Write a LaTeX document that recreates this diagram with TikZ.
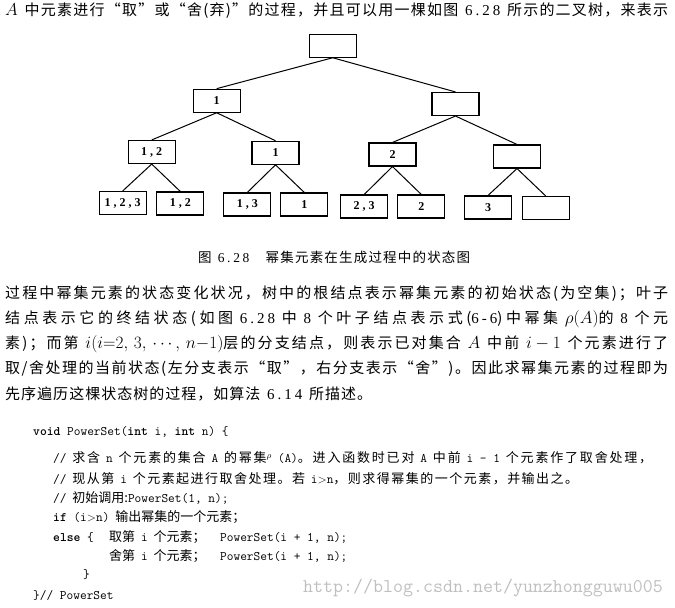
\documentclass[tikz,border=0pt]{standalone}
\usepackage[no-math]{fontspec}
\setmainfont{Noto Sans CJK SC}
\newfontfamily\lat{Liberation Serif}
\newfontfamily\num[LetterSpace=20]{Liberation Serif}
% glue between CJK characters, so that a line can be justified
\newXeTeXintercharclass\cjkcls
\newcount\cc
\cc="4E00 \loop \XeTeXcharclass\cc=\cjkcls \advance\cc by 1 \ifnum\cc<"A000 \repeat
\cc="3000 \loop \XeTeXcharclass\cc=\cjkcls \advance\cc by 1 \ifnum\cc<"3040 \repeat
\cc="FF00 \loop \XeTeXcharclass\cc=\cjkcls \advance\cc by 1 \ifnum\cc<"FF60 \repeat
\XeTeXcharclass"201C=\cjkcls
\XeTeXcharclass"201D=\cjkcls
\XeTeXinterchartoks\cjkcls\cjkcls={\hskip 0pt plus 1fil\relax}
\XeTeXinterchartoks 0 \cjkcls={\hskip 0pt plus 1fil\relax}
\XeTeXinterchartoks\cjkcls 0 ={\hskip 0pt plus 1fil\relax}
\XeTeXinterchartokenstate=1
\newcommand*{\bw}{47pt}
\newcommand*{\bh}{23pt}
\newcommand*{\tw}{663pt}
\newcommand*{\gap}{\hspace{0.45em}}
\newcommand*{\cd}[1]{{\ttfamily #1}}
\newcommand*{\mth}[1]{{\fontsize{17}{18}\selectfont$#1$}}

\begin{document}
\begin{tikzpicture}[x=1pt, y=-1pt,
    stbox/.style={draw, line width=1.1pt, minimum width=\bw, minimum height=\bh, inner sep=0pt, font=\lat\bfseries\fontsize{12}{12}\selectfont},
    edge/.style={line width=1pt},
    txt/.style={anchor=west, inner sep=0pt, font=\fontsize{15}{18}\selectfont},
    code/.style={anchor=west, inner sep=0pt, font=\fontsize{13}{15}\selectfont}]
    \useasboundingbox (0,0) rectangle (675,608);
    % text above the tree
    \node [txt] (top) at (5,11) {\makebox[\tw][s]{\mth{A}\gap 中元素进行“取”或“舍(弃)”的过程，并且可以用一棵如图\gap{\num 6.28}\gap 所示的二叉树，来表示}};
    % state tree
    \node [stbox] (t)    at (332.7, 45.7) {};
    \node [stbox] (t1)   at (216.7,100.7) {1};
    \node [stbox] (t0)   at (455.5,104.0) {};
    \node [stbox] (t11)  at (151.7,152.0) {1 , 2};
    \node [stbox] (t10)  at (275.5,152.8) {1};
    \node [stbox] (t01)  at (392.5,154.5) {2};
    \node [stbox] (t00)  at (517.0,156.5) {};
    \node [stbox] (t111) at (122.7,203.0) {1 , 2 , 3};
    \node [stbox] (t110) at (180.3,203.5) {1 , 2};
    \node [stbox] (t101) at (247.3,204.5) {1 , 3};
    \node [stbox] (t100) at (304.3,204.5) {1};
    \node [stbox] (t011) at (364.2,206.5) {2 , 3};
    \node [stbox] (t010) at (421.3,206.5) {2};
    \node [stbox] (t001) at (488.0,207.5) {3};
    \node [stbox] (t000) at (545.7,208.0) {};
    \draw [edge] (t.south)   -- (t1.north);
    \draw [edge] (t.south)   -- (t0.north);
    \draw [edge] (t1.south)  -- (t11.north);
    \draw [edge] (t1.south)  -- (t10.north);
    \draw [edge] (t0.south)  -- (t01.north);
    \draw [edge] (t0.south)  -- (t00.north);
    \draw [edge] (t11.south) -- (t111.north);
    \draw [edge] (t11.south) -- (t110.north);
    \draw [edge] (t10.south) -- (t101.north);
    \draw [edge] (t10.south) -- (t100.north);
    \draw [edge] (t01.south) -- (t011.north);
    \draw [edge] (t01.south) -- (t010.north);
    \draw [edge] (t00.south) -- (t001.north);
    \draw [edge] (t00.south) -- (t000.north);
    \node [txt, font=\fontsize{13.5}{15}\selectfont] (cap) at (198,257) {\makebox[272pt][s]{图\gap{\num 6.28}\hspace{1.2em}幂集元素在生成过程中的状态图}};
    % paragraph
    \node [txt] (p1) at (5,294) {\makebox[\tw][s]{过程中幂集元素的状态变化状况，树中的根结点表示幂集元素的初始状态(为空集)；叶子}};
    \node [txt] (p2) at (5,319) {\makebox[\tw][s]{结点表示它的终结状态(如图\gap{\num 6.28}\gap 中\gap{\num 8}\gap 个叶子结点表示式({\num 6-6})中幂集\gap\mth{\rho(A)}的\gap{\num 8}\gap 个元}};
    \node [txt] (p3) at (5,344) {\makebox[\tw][s]{素)；而第\gap\mth{i(i{=}2,\,3,\,\cdots,\,n{-}1)}层的分支结点，则表示已对集合\gap\mth{A}\gap 中前\gap\mth{i-1}\gap 个元素进行了}};
    \node [txt] (p4) at (5,369) {\makebox[\tw][s]{取/舍处理的当前状态(左分支表示“取”，右分支表示“舍”)。因此求幂集元素的过程即为}};
    \node [txt] (p5) at (5,394) {\makebox[367pt][s]{先序遍历这棵状态树的过程，如算法\gap{\num 6.14}\gap 所描述。}};
    % algorithm
    \node [code] (c1) at (33,432) {\cd{\textbf{void} PowerSet(\textbf{int} i, \textbf{int} n) \{}};
    \node [code] (c2) at (53,458) {\makebox[599pt][s]{\cd{//}\gap 求含\gap\cd{n}\gap 个元素的集合\gap\cd{A}\gap 的幂集$^{\rho}$\gap\cd{(A)}。进入函数时已对\gap\cd{A}\gap 中前\gap\cd{i - 1}\gap 个元素作了取舍处理，}};
    \node [code] (c3) at (53,479) {\makebox[525pt][s]{\cd{//}\gap 现从第\gap\cd{i}\gap 个元素起进行取舍处理。若\gap\cd{i$>$n}，则求得幂集的一个元素，并输出之。}};
    \node [code] (c4) at (53,498) {\cd{//}\gap 初始调用:\cd{PowerSet(1, n);}};
    \node [code] (c5) at (53,517) {\cd{\textbf{if} (i$>$n)}\gap 输出幂集的一个元素；};
    \node [code] (c6) at (53,537) {\hbox to 56pt{\cd{\textbf{else} \{}\hfill}\hbox to 111pt{取第\gap\cd{i}\gap 个元素；\hfill}\cd{PowerSet(i + 1, n);}};
    \node [code] (c7) at (109,556) {\hbox to 111pt{舍第\gap\cd{i}\gap 个元素；\hfill}\cd{PowerSet(i + 1, n);}};
    \node [code] (c8) at (83,575) {\cd{\}}};
    \node [code] (c9) at (33,596) {\cd{\}// PowerSet}};
    % watermark
    \node [anchor=west, inner sep=0pt, text=black!25, font=\ttfamily\fontsize{19.4}{19.4}\selectfont] (wm) at (303,588) {http://blog.csdn.net/yunzhongguwu005};
\end{tikzpicture}
\end{document}
